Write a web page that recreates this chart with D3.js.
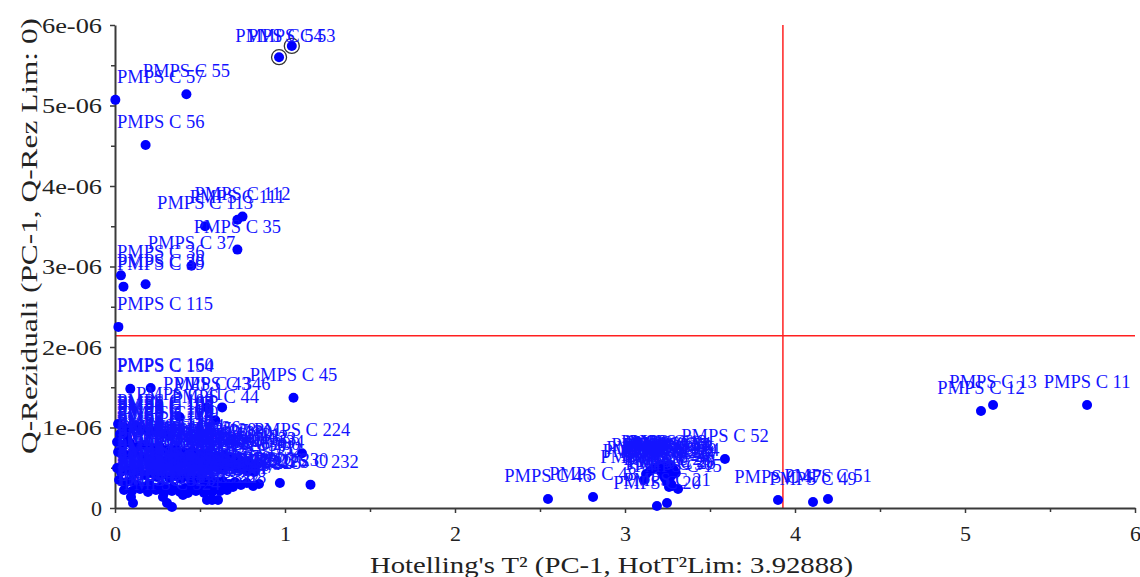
<!DOCTYPE html>
<html><head><meta charset="utf-8">
<script src="https://cdn.jsdelivr.net/npm/d3@7/dist/d3.min.js"></script>
<style>body{margin:0;background:#fff}svg{display:block}</style>
</head><body><svg id="c" width="1140" height="577"></svg>
<script>
// ---- data ----
const sampleIds = [
  53,54,57,55,56,112,111,113,35,37,36,38,39,115,154,160,45,43,346,41,44,224,230,232,
  11,12,13,47,49,51,52,46,48,20,21,16,15,26,14,
  1,2,3,4,5,6,7,8,9,17,18,19,22,23,24,25,27,28,29,30,31,32,33,
  100,102,103,104,105,106,107,108,109,110,114,
  116,117,118,119,120,121,122,123,124,125,126,127,128,129,130,131,132,133,134,
  135,136,137,138,139,140,141,142,143,144,145,146,147,148,149,150,151,152,
  201,202,203,204,205,206,207,208,209,210,211,212,213,214,215,216,217,218,219,220,221,222,223,225,226,
  227,228,229,231,233,234,235,236,237,238,239,240,241,242,243,244,245,246,247,248,
  249,250,251,252,253,254,255,256,257,258,259,260,261,
  320,321,322,323,324,325,326,327,328,
  101,200
];
const hotellingT2 = [
  1.04,0.965,0.002,0.42,0.18,0.75,0.72,0.53,0.72,0.45,0.035,0.18,0.05,0.02,0.09,0.21,1.05,0.54,0.63,0.38,0.59,1.10,0.97,1.15,
  5.718,5.094,5.165,3.90,4.106,4.194,3.588,2.547,2.812,3.188,3.247,3.112,3.312,3.276,3.299,
  3.206,3.229,3.253,3.276,3.218,3.241,3.265,3.288,3.212,3.235,3.259,3.282,3.224,3.247,3.271,3.235,3.259,3.247,3.271,3.259,3.124,3.176,3.147,
  0.018,0.053,0.088,0.124,0.159,0.200,0.241,0.282,0.324,0.029,0.071,
  0.012,0.047,0.088,0.129,0.176,0.218,0.265,0.312,0.359,0.406,0.453,0.500,0.547,0.594,0.641,0.688,0.735,0.782,0.829,
  0.018,0.065,0.112,0.159,0.206,0.253,0.300,0.347,0.394,0.441,0.488,0.535,0.582,0.629,0.676,0.724,0.771,0.818,
  0.012,0.035,0.071,0.106,0.141,0.176,0.212,0.247,0.282,0.318,0.353,0.388,0.424,0.459,0.494,0.529,0.565,0.600,0.635,0.671,0.706,0.741,0.776,0.812,0.847,
  0.024,0.059,0.094,0.129,0.165,0.200,0.235,0.271,0.306,0.341,0.376,0.412,0.447,0.482,0.518,0.553,0.588,0.624,0.659,0.694,
  0.053,0.100,0.147,0.194,0.241,0.288,0.335,0.382,0.429,0.476,0.524,0.571,0.618,
  0.094,0.106,0.282,0.306,0.335,0.400,0.541,0.571,0.606,
  0.588,0.806
];
const qResiduals = [
  5.74e-6,5.60e-6,5.07e-6,5.14e-6,4.51e-6,3.62e-6,3.58e-6,3.50e-6,3.21e-6,3.01e-6,2.89e-6,2.78e-6,2.75e-6,2.25e-6,1.48e-6,1.49e-6,1.37e-6,1.25e-6,1.25e-6,1.13e-6,1.09e-6,0.68e-6,0.31e-6,0.29e-6,
  1.28e-6,1.205e-6,1.28e-6,0.099e-6,0.075e-6,0.112e-6,0.609e-6,0.112e-6,0.137e-6,0.025e-6,0.062e-6,0.348e-6,0.236e-6,0.273e-6,0.435e-6,
  0.534e-6,0.522e-6,0.534e-6,0.509e-6,0.497e-6,0.484e-6,0.497e-6,0.472e-6,0.460e-6,0.447e-6,0.460e-6,0.435e-6,0.410e-6,0.422e-6,0.398e-6,0.373e-6,0.360e-6,0.323e-6,0.298e-6,0.261e-6,0.422e-6,0.497e-6,0.460e-6,
  1.043e-6,1.006e-6,0.981e-6,1.019e-6,0.969e-6,0.944e-6,0.957e-6,0.919e-6,0.894e-6,0.919e-6,0.882e-6,
  0.820e-6,0.783e-6,0.807e-6,0.758e-6,0.783e-6,0.745e-6,0.758e-6,0.720e-6,0.733e-6,0.696e-6,0.708e-6,0.671e-6,0.683e-6,0.646e-6,0.658e-6,0.621e-6,0.596e-6,0.571e-6,0.534e-6,
  0.696e-6,0.658e-6,0.683e-6,0.634e-6,0.609e-6,0.646e-6,0.596e-6,0.571e-6,0.609e-6,0.559e-6,0.584e-6,0.547e-6,0.571e-6,0.522e-6,0.547e-6,0.497e-6,0.472e-6,0.447e-6,
  0.497e-6,0.447e-6,0.472e-6,0.422e-6,0.460e-6,0.410e-6,0.435e-6,0.385e-6,0.422e-6,0.373e-6,0.398e-6,0.360e-6,0.385e-6,0.335e-6,0.373e-6,0.323e-6,0.348e-6,0.311e-6,0.335e-6,0.298e-6,0.323e-6,0.286e-6,0.311e-6,0.273e-6,0.298e-6,
  0.348e-6,0.311e-6,0.335e-6,0.286e-6,0.261e-6,0.298e-6,0.248e-6,0.273e-6,0.236e-6,0.261e-6,0.224e-6,0.248e-6,0.273e-6,0.236e-6,0.261e-6,0.224e-6,0.286e-6,0.248e-6,0.224e-6,0.261e-6,
  0.224e-6,0.211e-6,0.236e-6,0.199e-6,0.224e-6,0.186e-6,0.211e-6,0.199e-6,0.186e-6,0.211e-6,0.186e-6,0.199e-6,0.211e-6,
  0.137e-6,0.062e-6,0.137e-6,0.062e-6,0.012e-6,0.161e-6,0.099e-6,0.099e-6,0.099e-6,
  0.634e-6,0.509e-6
];
const labelPrefix = "PMPS C ";
const highlightedIds = [53, 54];
const hotT2Limit = 3.92888;
const qLimit = 2.14e-6;
const xTicks = [0, 1, 2, 3, 4, 5, 6];
const xTickLabels = ["0", "1", "2", "3", "4", "5", "6"];
const xMinorTicks = [0.5, 1.5, 2.5, 3.5, 4.5, 5.5];
const yTicks = [0, 1e-6, 2e-6, 3e-6, 4e-6, 5e-6, 6e-6];
const yTickLabels = ["0", "1e-06", "2e-06", "3e-06", "4e-06", "5e-06", "6e-06"];
const yMinorTicks = [0.5e-6, 1.5e-6, 2.5e-6, 3.5e-6, 4.5e-6, 5.5e-6];
const xTitle = "Hotelling's T\u00B2 (PC-1, HotT\u00B2Lim: 3.92888)";
const yTitle = "Q-Reziduali (PC-1, Q-Rez Lim: 0)";

// ---- drawing ----
const FONT = "'Liberation Serif', 'Times New Roman', serif";
const svg = d3.select("#c");
const L = 115, R = 1135, T = 25, B = 508;
const x = d3.scaleLinear().domain([0, 6]).range([L, R]);
const y = d3.scaleLinear().domain([0, 6e-6]).range([B, T]);

const points = sampleIds.map((id, i) => ({ id, t2: hotellingT2[i], q: qResiduals[i] }));

// limit lines
svg.append("line").attr("x1", x(hotT2Limit)).attr("x2", x(hotT2Limit)).attr("y1", T).attr("y2", B)
  .attr("stroke", "#ff2020").attr("stroke-width", 1.5);
svg.append("line").attr("x1", L).attr("x2", R).attr("y1", y(qLimit)).attr("y2", y(qLimit))
  .attr("stroke", "#ff2020").attr("stroke-width", 1.5);

// axes
const axColor = "#3a3a3a";
const gx = svg.append("g").attr("transform", `translate(0,${B})`)
  .call(d3.axisBottom(x).tickValues(xTicks).tickFormat((d, i) => xTickLabels[i]).tickSize(5).tickSizeOuter(0).tickPadding(12));
const gxm = svg.append("g").attr("transform", `translate(0,${B})`)
  .call(d3.axisBottom(x).tickValues(xMinorTicks).tickFormat("").tickSize(4));
const gy = svg.append("g").attr("transform", `translate(${L},0)`)
  .call(d3.axisLeft(y).tickValues(yTicks).tickFormat((d, i) => yTickLabels[i]).tickSize(5).tickSizeOuter(0).tickPadding(8));
const gym = svg.append("g").attr("transform", `translate(${L},0)`)
  .call(d3.axisLeft(y).tickValues(yMinorTicks).tickFormat("").tickSize(4));
[gxm, gym].forEach(g => g.select(".domain").remove());
[gx, gy].forEach(g => g.select(".domain").attr("stroke", axColor).attr("stroke-width", 2));
[gx, gy, gxm, gym].forEach(g => g.selectAll(".tick line").attr("stroke", axColor).attr("stroke-width", 1.5));
[gx, gy].forEach(g => g.selectAll(".tick text").attr("fill", "#222").style("font-family", FONT).style("font-size", "22px"));
gy.selectAll(".tick text").attr("textLength", (d, i) => i === 0 ? null : 60).attr("lengthAdjust", "spacingAndGlyphs");

// titles
svg.append("text").attr("x", (370 + 853) / 2).attr("y", 573).attr("text-anchor", "middle")
  .attr("textLength", 483).attr("lengthAdjust", "spacingAndGlyphs")
  .style("font-family", FONT).style("font-size", "23px").attr("fill", "#222").text(xTitle);
svg.append("text").attr("transform", "translate(37,236) rotate(-90)").attr("text-anchor", "middle")
  .attr("textLength", 436).attr("lengthAdjust", "spacingAndGlyphs")
  .style("font-family", FONT).style("font-size", "23px").attr("fill", "#222").text(yTitle);

// highlight rings
svg.append("g").selectAll("circle").data(points.filter(p => highlightedIds.includes(p.id))).join("circle")
  .attr("cx", p => x(p.t2)).attr("cy", p => y(p.q)).attr("r", 7.5)
  .attr("fill", "#fff").attr("stroke", "#333").attr("stroke-width", 1.3);

// points
svg.append("g").selectAll("circle").data(points).join("circle")
  .attr("cx", p => x(p.t2)).attr("cy", p => y(p.q)).attr("r", 5).attr("fill", "#0000ff");

// labels
const lab = svg.append("g").style("font-family", FONT).style("font-size", "18.5px").attr("fill", "#1414ff");
lab.selectAll("text").data(points).join("text").text(p => labelPrefix + p.id)
  .each(function (p) {
    const w = this.getComputedTextLength();
    const cx = x(p.t2), cy = y(p.q);
    const lx = Math.min(Math.max(cx - w / 2, L + 2), R - w);
    const ly = Math.max(cy - 17, T + 17);
    d3.select(this).attr("x", lx).attr("y", ly);
  });
</script></body></html>
